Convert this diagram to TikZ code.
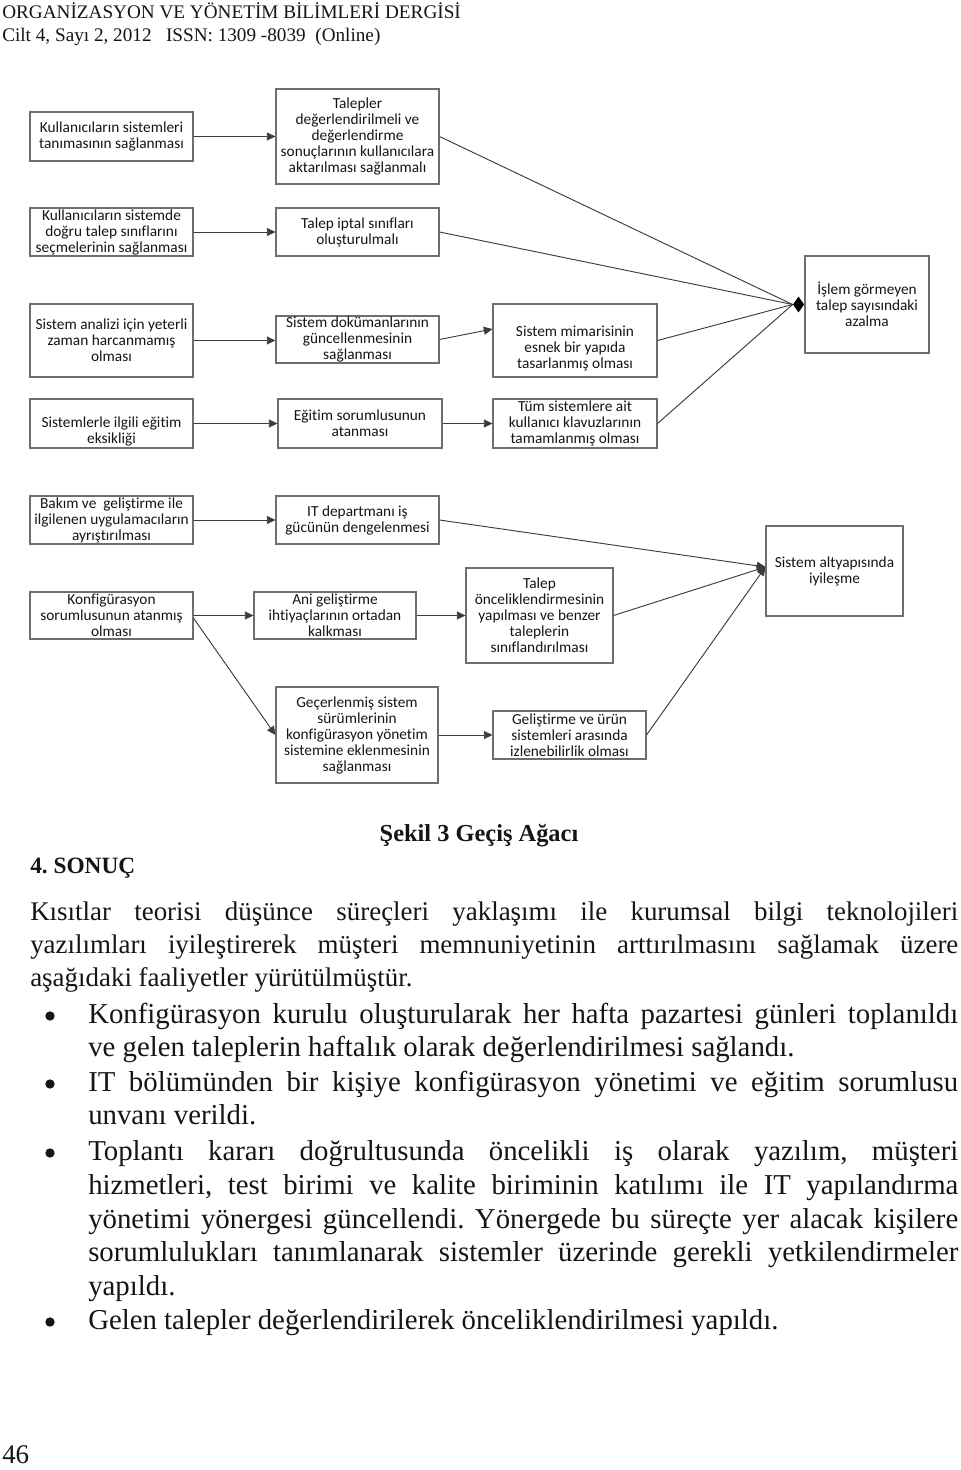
\documentclass[tikz,border=0pt]{standalone}
\usepackage{fontspec}
\setmainfont{Liberation Serif}
\newfontfamily\boxfont[Ligatures=NoCommon]{Carlito}
\usetikzlibrary{arrows.meta,shapes.geometric}
\definecolor{boxgray}{HTML}{6E6E6E}
\definecolor{linegray}{HTML}{3C3C3C}
\definecolor{txt}{HTML}{151515}
\frenchspacing
\newcommand\mkbox[6]{\node[box,minimum width={(#4-#2)*0.75pt},minimum height={(#5-#3)*0.75pt}] (#1) at ({(#2+#4)/2},{(#3+#5)/2}) {#6};}
\newcommand\lowr{\rule{0pt}{20pt}}
\begin{document}
\begin{tikzpicture}[x=0.75pt,y=-0.75pt,
  box/.style={draw=boxgray, line width=0.8pt, align=center, inner xsep=1pt, inner ysep=0pt,
    font=\boxfont\fontsize{11.5}{12}\selectfont, text=txt},
  conn/.style={draw=linegray, line width=0.7pt, -{Triangle[length=6.5pt,width=6pt]}},
  plain/.style={draw=linegray, line width=0.7pt},
  junction/.style={diamond, fill=black, draw=none, inner sep=0pt, minimum width=8.5pt, minimum height=12pt},
  para/.style={anchor=base west, inner sep=0pt, font=\fontsize{20.2}{25}\selectfont, text=txt},
  body/.style={anchor=base west, inner sep=0pt, font=\fontsize{21.6}{25}\selectfont, text=txt},
  header/.style={anchor=base west, inner sep=0pt, font=\fontsize{14.4}{16}\selectfont, text=txt},
  bul/.style={circle, fill=txt, inner sep=0pt, minimum size=7pt},
]
\useasboundingbox[fill=white] (0,0) rectangle (960,1470);

% header
\node[header] (h1) at (2,19) {ORGANİZASYON VE YÖNETİM BİLİMLERİ DERGİSİ};
\node[header] (h2) at (2,42) {Cilt 4, Sayı 2, 2012\ \ \ ISSN: 1309 -8039\ \ (Online)};

% boxes
\mkbox{a1}{30}{112}{193}{161}{Kullanıcıların sistemleri\\tanımasının sağlanması}
\mkbox{b1}{276}{89}{439}{184}{Talepler\\değerlendirilmeli ve\\değerlendirme\\sonuçlarının kullanıcılara\\aktarılması sağlanmalı}
\mkbox{a2}{30}{208}{193}{256}{Kullanıcıların sistemde\\doğru talep sınıflarını\\seçmelerinin sağlanması}
\mkbox{b2}{276}{208}{439}{256}{Talep iptal sınıfları\\oluşturulmalı}
\mkbox{a3}{30}{304}{193}{377}{Sistem analizi için yeterli\\zaman harcanmamış\\olması}
\mkbox{b3}{276}{316}{439}{363}{Sistem dokümanlarının\\güncellenmesinin\\sağlanması}
\mkbox{c3}{493}{304}{657}{377}{\lowr Sistem mimarisinin\\esnek bir yapıda\\tasarlanmış olması}
\mkbox{d1}{805}{256}{929}{353}{İşlem görmeyen\\talep sayısındaki\\azalma}
\mkbox{a4}{30}{399}{193}{448}{\lowr Sistemlerle ilgili eğitim\\eksikliği}
\mkbox{b4}{278}{399}{442}{448}{Eğitim sorumlusunun\\atanması}
\mkbox{c4}{493}{399}{657}{448}{Tüm sistemlere ait\\kullanıcı klavuzlarının\\tamamlanmış olması}
\mkbox{a5}{30}{496}{193}{544}{Bakım ve\ \ geliştirme ile\\ilgilenen uygulamacıların\\ayrıştırılması}
\mkbox{b5}{276}{496}{439}{544}{IT departmanı iş\\gücünün dengelenmesi}
\mkbox{a6}{30}{592}{193}{639}{Konfigürasyon\\sorumlusunun atanmış\\olması}
\mkbox{b6}{254}{592}{416}{639}{Ani geliştirme\\ihtiyaçlarının ortadan\\kalkması}
\mkbox{c6}{466}{568}{613}{663}{Talep\\önceliklendirmesinin\\yapılması ve benzer\\taleplerin\\sınıflandırılması}
\mkbox{d6}{766}{526}{903}{616}{Sistem altyapısında\\iyileşme}
\mkbox{f7}{276}{687}{438}{783}{Geçerlenmiş sistem\\sürümlerinin\\konfigürasyon yönetim\\sistemine eklenmesinin\\sağlanması}
\mkbox{e7}{493}{711}{646}{759}{Geliştirme ve ürün\\sistemleri arasında\\izlenebilirlik olması}

% junction diamond and target point
\node[junction, anchor=east] (j1) at (d1.west) {};
\coordinate (t6) at ([yshift=3pt]d6.west);

% connectors
\draw[conn] (a1.east) -- (b1.west |- a1.east);
\draw[conn] (a2.east) -- (b2.west);
\draw[conn] (a3.east) -- (b3.west |- a3.east);
\draw[conn] (b3.east) -- ([yshift=8.6pt]c3.west);
\draw[conn] (a4.east) -- (b4.west);
\draw[conn] (b4.east) -- (c4.west);
\draw[conn] (a5.east) -- (b5.west);
\draw[conn] (a6.east) -- (b6.west);
\draw[conn] (b6.east) -- (c6.west);
\draw[conn] ([yshift=-2pt]a6.east) -- (f7.west);
\draw[conn] (f7.east) -- (e7.west);
\draw[plain] (b1.east) -- (j1.west);
\draw[plain] (b2.east) -- (j1.west);
\draw[plain] (c3.east) -- (j1.west);
\draw[plain] (c4.east) -- (j1.west);
\draw[conn] (b5.east) -- (t6);
\draw[conn] (c6.east) -- (t6);
\draw[conn] (e7.east) -- (t6);

% caption and heading
\node[anchor=base, inner sep=0pt, font=\bfseries\fontsize{18.3}{20}\selectfont, text=txt] (cap) at (479,841) {Şekil 3 Geçiş Ağacı};
\node[anchor=base west, inner sep=0pt, font=\bfseries\fontsize{17.5}{20}\selectfont, text=txt] (sonuc) at (30,873) {4. SONUÇ};

% body
\node[para] (l1) at (30,920) {\makebox[696pt][s]{Kısıtlar teorisi düşünce süreçleri yaklaşımı ile kurumsal bilgi teknolojileri}};
\node[para] (l2) at (30,953) {\makebox[696pt][s]{yazılımları iyileştirerek müşteri memnuniyetinin arttırılmasını sağlamak üzere}};
\node[para] (l3) at (30,986) {aşağıdaki faaliyetler yürütülmüştür.};
\node[bul] (u1) at (50,1016) {};
\node[body] (l4) at (88,1023) {\makebox[652.5pt][s]{Konfigürasyon kurulu oluşturularak her hafta pazartesi günleri toplanıldı}};
\node[body] (l5) at (88,1056) {ve gelen taleplerin haftalık olarak değerlendirilmesi sağlandı.};
\node[bul] (u2) at (50,1084) {};
\node[body] (l6) at (88,1091) {\makebox[652.5pt][s]{IT bölümünden bir kişiye konfigürasyon yönetimi ve eğitim sorumlusu}};
\node[body] (l7) at (88,1124) {unvanı verildi.};
\node[bul] (u3) at (50,1153) {};
\node[body] (l8) at (88,1160) {\makebox[652.5pt][s]{Toplantı kararı doğrultusunda öncelikli iş olarak yazılım, müşteri}};
\node[body] (l9) at (88,1194) {\makebox[652.5pt][s]{hizmetleri, test birimi ve kalite biriminin katılımı ile IT yapılandırma}};
\node[body] (l10) at (88,1228) {\makebox[652.5pt][s]{yönetimi yönergesi güncellendi. Yönergede bu süreçte yer alacak kişilere}};
\node[body] (l11) at (88,1261) {\makebox[652.5pt][s]{sorumlulukları tanımlanarak sistemler üzerinde gerekli yetkilendirmeler}};
\node[body] (l12) at (88,1295) {yapıldı.};
\node[bul] (u4) at (50,1322) {};
\node[body] (l13) at (88,1329) {Gelen talepler değerlendirilerek önceliklendirilmesi yapıldı.};

\node[para] (pg) at (2,1463) {46};
\end{tikzpicture}
\end{document}
